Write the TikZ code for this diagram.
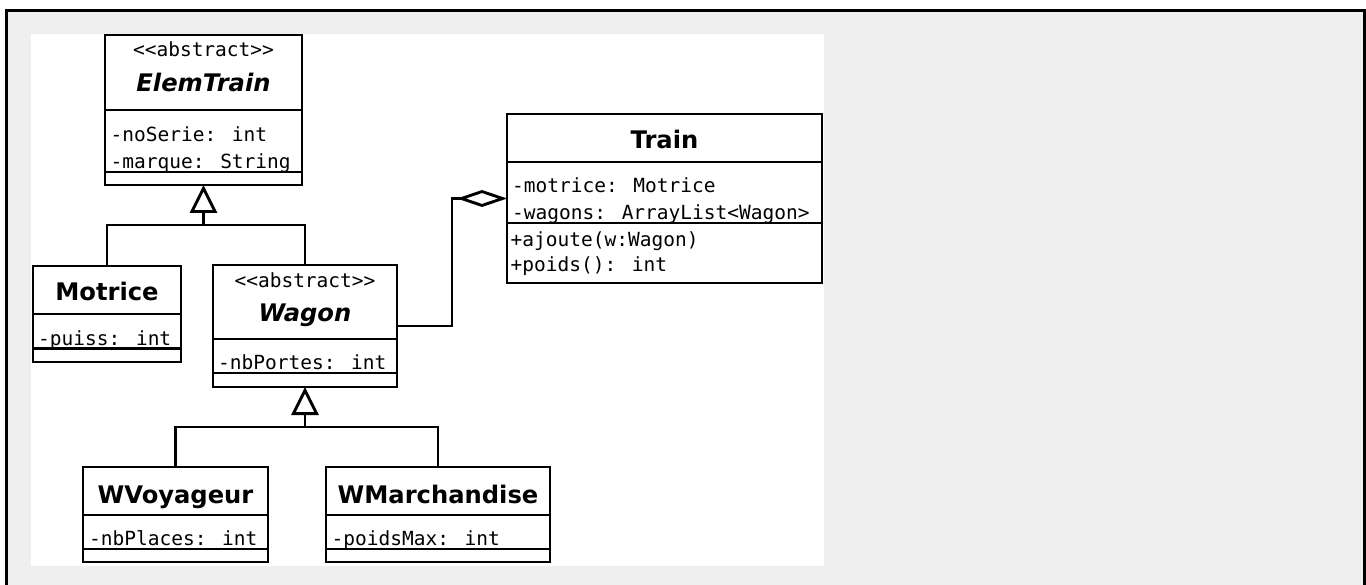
\documentclass[tikz,border=0pt]{standalone}
\usepackage{fontspec}
\usepackage{tikz}
\usetikzlibrary{arrows.meta, calc}

\newfontfamily\umlmono{DejaVu Sans Mono}[Ligatures=TeXOff]
\newfontfamily\umlsans{DejaVu Sans}[Ligatures=TeXOff]

\definecolor{panelgray}{HTML}{EFEFEF}

\tikzset{
    umlline/.style={line width=2.9pt},
    umlclass/.style={draw, umlline, fill=white, anchor=north west,
        inner sep=0pt, outer sep=0pt},
    member/.style={anchor=base west, inner sep=0pt,
        font=\umlmono\fontsize{19.5}{24}\selectfont},
    stereo/.style={anchor=base, inner sep=0pt,
        font=\umlmono\fontsize{19.5}{24}\selectfont},
    classname/.style={anchor=base, inner sep=0pt,
        font=\umlsans\bfseries\fontsize{24.2}{28}\selectfont},
    absname/.style={classname,
        font=\umlsans\bfseries\itshape\fontsize{24.2}{28}\selectfont},
    inherit/.style={umlline, -{Triangle[open, length=28pt, width=27pt]}},
    aggregate/.style={umlline, -{Diamond[open, length=50pt, width=17pt]}},
}

\begin{document}
\begin{tikzpicture}[x=1pt, y=-1pt]
    \useasboundingbox (0,0) rectangle (1366,585);

    % Window frame and drawing area
    \fill[white] (0,0) rectangle (1366,585);
    \fill[panelgray] (6.7,10.7) rectangle (1364.5,585);
    \draw[line width=3pt] (6.7,585) -- (6.7,10.7) -- (1364.5,10.7) -- (1364.5,585);
    \fill[white] (31,34) rectangle (824,566);

    % Class boxes
    \node[umlclass, minimum width=197pt, minimum height=150pt] (elem) at (105,35) {};
    \node[umlclass, minimum width=148pt, minimum height=96pt] (motrice) at (33,266) {};
    \node[umlclass, minimum width=184pt, minimum height=122pt] (wagon) at (213,265) {};
    \node[umlclass, minimum width=315pt, minimum height=169pt] (train) at (507,114) {};
    \node[umlclass, minimum width=185pt, minimum height=95pt] (wvoy) at (83,467) {};
    \node[umlclass, minimum width=224pt, minimum height=95pt] (wmarch) at (326,467) {};

    % Compartment separators
    \foreach \n/\y in {elem/110, elem/172, motrice/314, motrice/348.5,
                       wagon/339, wagon/373, train/162, train/223,
                       wvoy/515, wvoy/549, wmarch/515, wmarch/549}
        \draw[umlline] (\n.west |- 0,\y) -- (\n.east |- 0,\y);

    % Class names
    \node[stereo] (elem-st) at (203.5,57) {<<abstract>>};
    \node[absname] (elem-nm) at (203.5,92) {ElemTrain};
    \node[stereo] (wagon-st) at (305,288) {<<abstract>>};
    \node[absname] (wagon-nm) at (305,322) {Wagon};
    \node[classname] (motrice-nm) at (107,301) {Motrice};
    \node[classname] (train-nm) at (664.5,149) {Train};
    \node[classname] (wvoy-nm) at (175.5,503) {WVoyageur};
    \node[classname] (wmarch-nm) at (438,503) {WMarchandise};

    % Attributes and operations
    \foreach \x/\y/\txt [count=\i] in {110.5/142/-noSerie: int,
            110.5/168.5/-marque: String,
            38/345/-puiss: int,
            218/370/-nbPortes: int,
            512/193/-motrice: Motrice,
            512/219.5/-wagons: ArrayList<Wagon>,
            510.5/246.5/+ajoute(w:Wagon),
            510.5/272/+poids(): int,
            89/545.5/-nbPlaces: int,
            331.5/545.5/-poidsMax: int}
        \node[member] (m\i) at (\x,\y) {\txt};

    % Inheritance
    \draw[inherit] (motrice.north) |- ([yshift=-40pt]elem.south) -- (elem.south);
    \draw[umlline] (wagon.north) |- ([yshift=-40pt]elem.south);
    \draw[inherit] (wvoy.north) |- ([yshift=-40pt]wagon.south) -- (wagon.south);
    \draw[umlline] (wmarch.north) |- ([yshift=-40pt]wagon.south);

    % Aggregation of wagons in a train
    \draw[aggregate] (wagon.east) -- ++(55,0) |- (train.west);
\end{tikzpicture}
\end{document}
